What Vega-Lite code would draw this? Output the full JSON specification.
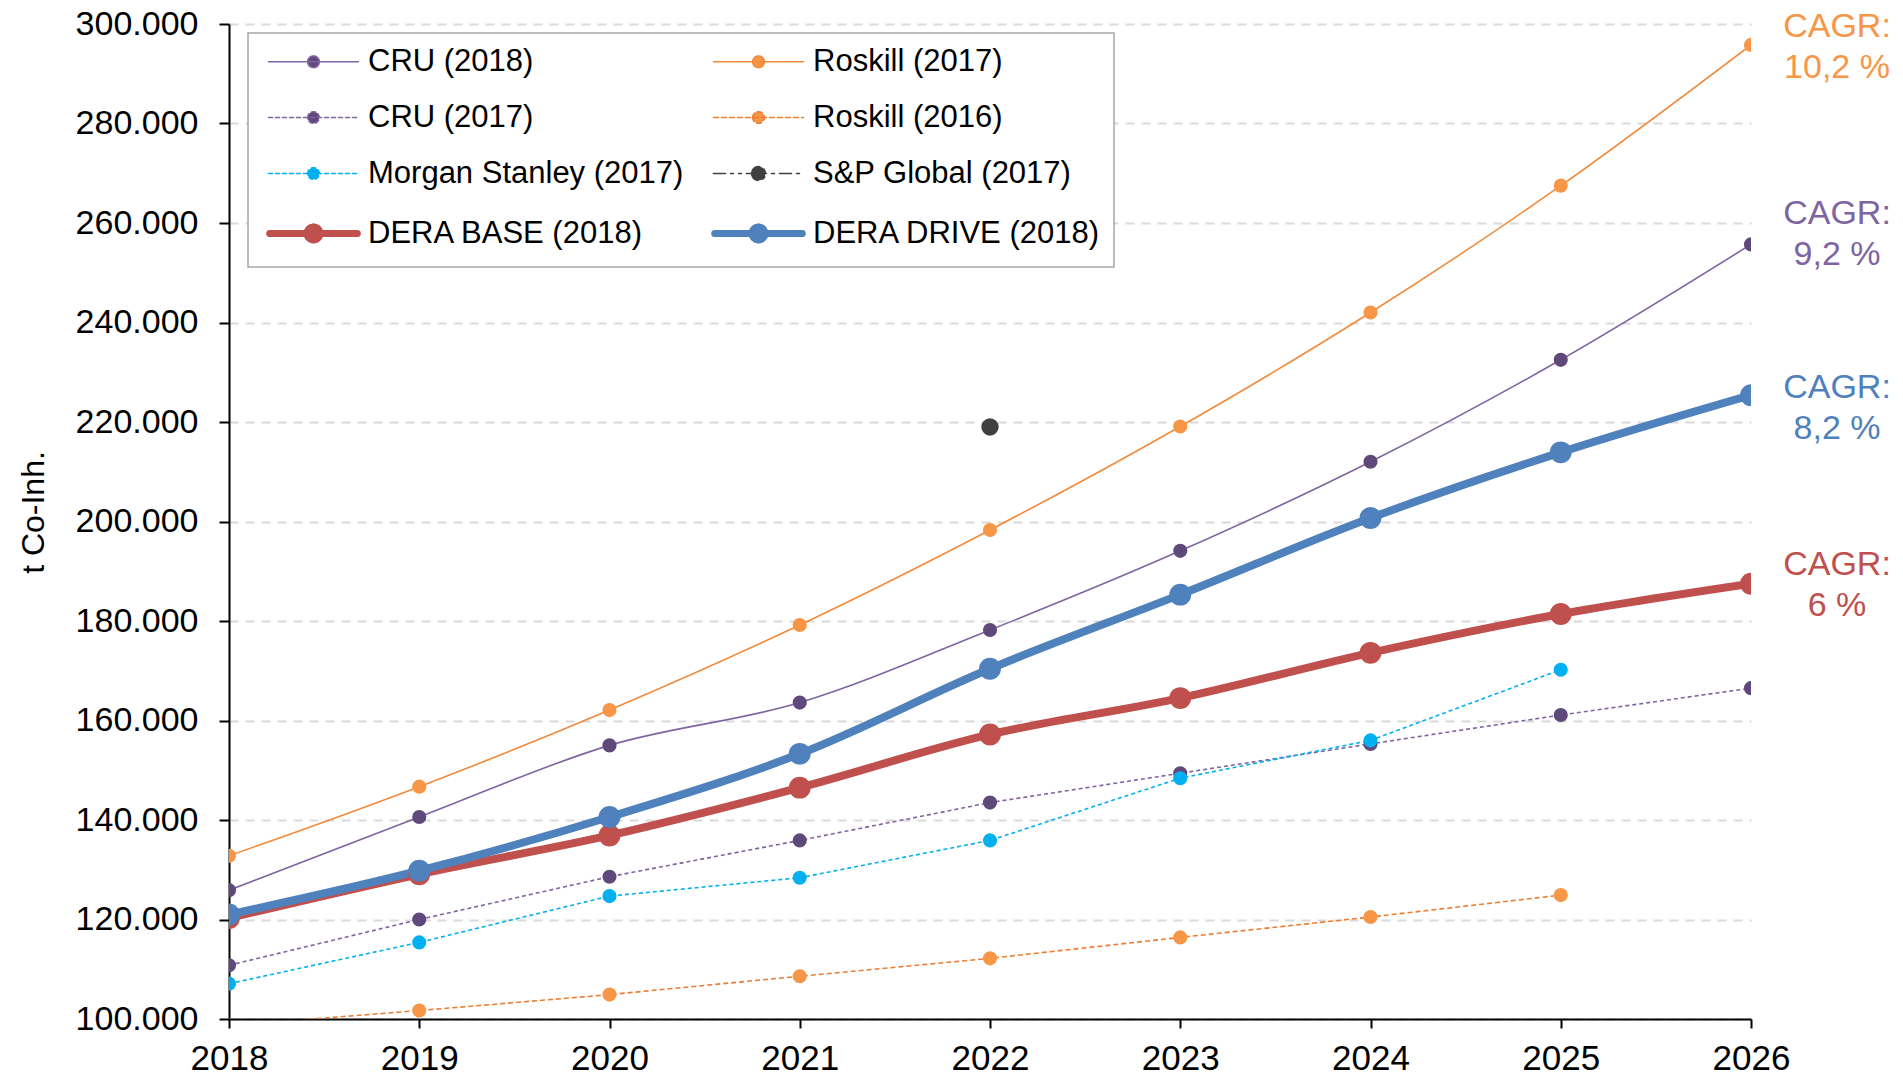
{
  "$schema": "https://vega.github.io/schema/vega-lite/v6.json",
  "width": 1522,
  "height": 995,
  "autosize": {"type": "none"},
  "padding": {"left": 229, "top": 24, "right": 152, "bottom": 58},
  "background": "white",
  "config": {
    "view": {"stroke": null},
    "font": "Liberation Sans"
  },
  "datasets": {
    "series": [
      {"series": "CRU (2018)", "year": 2018, "value": 125900},
      {"series": "CRU (2018)", "year": 2019, "value": 140600},
      {"series": "CRU (2018)", "year": 2020, "value": 155000},
      {"series": "CRU (2018)", "year": 2021, "value": 163600},
      {"series": "CRU (2018)", "year": 2022, "value": 178200},
      {"series": "CRU (2018)", "year": 2023, "value": 194100},
      {"series": "CRU (2018)", "year": 2024, "value": 212000},
      {"series": "CRU (2018)", "year": 2025, "value": 232500},
      {"series": "CRU (2018)", "year": 2026, "value": 255700},
      {"series": "Roskill (2017)", "year": 2018, "value": 132800},
      {"series": "Roskill (2017)", "year": 2019, "value": 146700},
      {"series": "Roskill (2017)", "year": 2020, "value": 162100},
      {"series": "Roskill (2017)", "year": 2021, "value": 179200},
      {"series": "Roskill (2017)", "year": 2022, "value": 198300},
      {"series": "Roskill (2017)", "year": 2023, "value": 219100},
      {"series": "Roskill (2017)", "year": 2024, "value": 242000},
      {"series": "Roskill (2017)", "year": 2025, "value": 267500},
      {"series": "Roskill (2017)", "year": 2026, "value": 295800},
      {"series": "CRU (2017)", "year": 2018, "value": 110800},
      {"series": "CRU (2017)", "year": 2019, "value": 120000},
      {"series": "CRU (2017)", "year": 2020, "value": 128600},
      {"series": "CRU (2017)", "year": 2021, "value": 135900},
      {"series": "CRU (2017)", "year": 2022, "value": 143500},
      {"series": "CRU (2017)", "year": 2023, "value": 149400},
      {"series": "CRU (2017)", "year": 2024, "value": 155300},
      {"series": "CRU (2017)", "year": 2025, "value": 161100},
      {"series": "CRU (2017)", "year": 2026, "value": 166500},
      {"series": "Roskill (2016)", "year": 2018, "value": 98700},
      {"series": "Roskill (2016)", "year": 2019, "value": 101700},
      {"series": "Roskill (2016)", "year": 2020, "value": 104900},
      {"series": "Roskill (2016)", "year": 2021, "value": 108600},
      {"series": "Roskill (2016)", "year": 2022, "value": 112200},
      {"series": "Roskill (2016)", "year": 2023, "value": 116400},
      {"series": "Roskill (2016)", "year": 2024, "value": 120500},
      {"series": "Roskill (2016)", "year": 2025, "value": 124900},
      {"series": "Morgan Stanley (2017)", "year": 2018, "value": 107100},
      {"series": "Morgan Stanley (2017)", "year": 2019, "value": 115400},
      {"series": "Morgan Stanley (2017)", "year": 2020, "value": 124700},
      {"series": "Morgan Stanley (2017)", "year": 2021, "value": 128400},
      {"series": "Morgan Stanley (2017)", "year": 2022, "value": 135900},
      {"series": "Morgan Stanley (2017)", "year": 2023, "value": 148400},
      {"series": "Morgan Stanley (2017)", "year": 2024, "value": 156000},
      {"series": "Morgan Stanley (2017)", "year": 2025, "value": 170200},
      {"series": "S&P Global (2017)", "year": 2022, "value": 219000},
      {"series": "DERA BASE (2018)", "year": 2018, "value": 120300},
      {"series": "DERA BASE (2018)", "year": 2019, "value": 129100},
      {"series": "DERA BASE (2018)", "year": 2020, "value": 136900},
      {"series": "DERA BASE (2018)", "year": 2021, "value": 146500},
      {"series": "DERA BASE (2018)", "year": 2022, "value": 157200},
      {"series": "DERA BASE (2018)", "year": 2023, "value": 164500},
      {"series": "DERA BASE (2018)", "year": 2024, "value": 173600},
      {"series": "DERA BASE (2018)", "year": 2025, "value": 181400},
      {"series": "DERA BASE (2018)", "year": 2026, "value": 187500},
      {"series": "DERA DRIVE (2018)", "year": 2018, "value": 121000},
      {"series": "DERA DRIVE (2018)", "year": 2019, "value": 129800},
      {"series": "DERA DRIVE (2018)", "year": 2020, "value": 140600},
      {"series": "DERA DRIVE (2018)", "year": 2021, "value": 153300},
      {"series": "DERA DRIVE (2018)", "year": 2022, "value": 170400},
      {"series": "DERA DRIVE (2018)", "year": 2023, "value": 185300},
      {"series": "DERA DRIVE (2018)", "year": 2024, "value": 200700},
      {"series": "DERA DRIVE (2018)", "year": 2025, "value": 213900},
      {"series": "DERA DRIVE (2018)", "year": 2026, "value": 225400}
    ],
    "cagr": [
      {"series": "Roskill (2017)", "year": 2026, "value": 295600, "label": "CAGR:\n10,2 %"},
      {"series": "CRU (2018)", "year": 2026, "value": 258000, "label": "CAGR:\n9,2 %"},
      {"series": "DERA DRIVE (2018)", "year": 2026, "value": 223100, "label": "CAGR:\n8,2 %"},
      {"series": "DERA BASE (2018)", "year": 2026, "value": 187400, "label": "CAGR:\n6 %"}
    ]
  },
  "data": {"name": "series"},
  "encoding": {
    "x": {
      "field": "year",
      "type": "quantitative",
      "scale": {"domain": [2018, 2026], "nice": false, "zero": false},
      "axis": {
        "title": null,
        "values": [2018, 2019, 2020, 2021, 2022, 2023, 2024, 2025, 2026],
        "format": "d",
        "grid": false,
        "labelFont": "Liberation Sans",
        "labelFontSize": 35,
        "labelColor": "#000000",
        "labelPadding": 13,
        "labelFlush": false,
        "labelOverlap": false,
        "tickColor": "#000000",
        "tickSize": 9,
        "tickWidth": 2,
        "domainColor": "#000000",
        "domainWidth": 2
      }
    },
    "y": {
      "field": "value",
      "type": "quantitative",
      "scale": {"domain": [100000, 300000], "nice": false, "zero": false},
      "axis": {
        "title": "t Co-Inh.",
        "titleFont": "Liberation Sans",
        "titleFontSize": 32,
        "titleFontWeight": "normal",
        "titleColor": "#000000",
        "titlePadding": 25,
        "titleY": 488,
        "values": [100000, 120000, 140000, 160000, 180000, 200000, 220000, 240000, 260000, 280000, 300000],
        "labelExpr": "replace(format(datum.value, ','), ',', '.')",
        "labelFontSize": 34,
        "labelColor": "#000000",
        "labelPadding": 21,
        "tickColor": "#000000",
        "tickSize": 10,
        "tickWidth": 2,
        "domainColor": "#000000",
        "domainWidth": 2,
        "grid": true,
        "gridColor": "#D9D9D9",
        "gridDash": [9, 7],
        "gridWidth": 2
      }
    }
  },
  "layer": [
    {
      "transform": [{"filter": {"field": "series", "oneOf": ["CRU (2017)", "Roskill (2016)", "Morgan Stanley (2017)", "S&P Global (2017)"]}}],
      "mark": {"type": "line", "clip": true, "strokeWidth": 1.6},
      "encoding": {
        "color": {
          "field": "series",
          "type": "nominal",
          "scale": {
            "domain": ["CRU (2018)", "CRU (2017)", "Morgan Stanley (2017)", "DERA BASE (2018)", "Roskill (2017)", "Roskill (2016)", "S&P Global (2017)", "DERA DRIVE (2018)"],
            "range": ["#8064A2", "#8064A2", "#00B0F0", "#C0504D", "#F28A3A", "#ED7D31", "#404040", "#4F81BD"]
          },
          "legend": {
            "title": null,
            "orient": "none",
            "legendX": 19,
            "legendY": 9,
            "columns": 2,
            "symbolType": "M-4.5,0L4.5,0",
            "symbolSize": 400,
            "symbolStrokeWidth": 1.6,
            "symbolOffset": 37,
            "labelOffset": 39,
            "labelFont": "Liberation Sans",
            "labelFontSize": 31,
            "labelColor": "#000000",
            "labelLimit": 600,
            "rowPadding": 24,
            "columnPadding": 16,
            "padding": 13,
            "strokeColor": "#A6A6A6",
            "fillColor": "#FFFFFF",
            "encode": {
              "legend": {"update": {"stroke": {"value": "#A6A6A6"}, "strokeWidth": {"value": 1.5}, "fill": {"value": "#FFFFFF"}}},
              "symbols": {
                "update": {
                  "shape": {"signal": "indexof(['DERA BASE (2018)','DERA DRIVE (2018)'], datum.value) >= 0 ? 'M-4,0L4,0M-0.59,0A0.59,0.59,0,1,1,0.59,0A0.59,0.59,0,1,1,-0.59,0Z' : (datum.value === 'S&P Global (2017)' ? 'M-5.2,0L5.2,0M-0.8,0A0.8,0.8,0,1,1,0.8,0A0.8,0.8,0,1,1,-0.8,0Z' : 'M-6.36,0L6.36,0M-0.82,0A0.82,0.82,0,1,1,0.82,0A0.82,0.82,0,1,1,-0.82,0Z')"},
                  "fill": {"signal": "['#5F497A','#5F497A','#00B0F0','#C0504D','#F79646','#F79646','#404040','#4F81BD'][indexof(['CRU (2018)','CRU (2017)','Morgan Stanley (2017)','DERA BASE (2018)','Roskill (2017)','Roskill (2016)','S&P Global (2017)','DERA DRIVE (2018)'], datum.value)]"},
                  "stroke": {"signal": "['#8064A2','#8064A2','#00B0F0','#C0504D','#F28A3A','#ED7D31','#404040','#4F81BD'][indexof(['CRU (2018)','CRU (2017)','Morgan Stanley (2017)','DERA BASE (2018)','Roskill (2017)','Roskill (2016)','S&P Global (2017)','DERA DRIVE (2018)'], datum.value)]"},
                  "strokeDash": {"signal": "[[1,0],[4,3],[4,3],[1,0],[1,0],[5,3],[12,5,3,5,3,5],[1,0]][indexof(['CRU (2018)','CRU (2017)','Morgan Stanley (2017)','DERA BASE (2018)','Roskill (2017)','Roskill (2016)','S&P Global (2017)','DERA DRIVE (2018)'], datum.value)]"},
                  "strokeWidth": {"signal": "indexof(['DERA BASE (2018)','DERA DRIVE (2018)'], datum.value) >= 0 ? 7 : 1.6"},
                  "strokeCap": {"value": "round"},
                  "opacity": {"value": 1}
                }
              }
            }
          }
        },
        "strokeDash": {
          "field": "series",
          "type": "nominal",
          "scale": {
            "domain": ["CRU (2017)", "Roskill (2016)", "Morgan Stanley (2017)", "S&P Global (2017)"],
            "range": [[4, 3], [5, 3], [4, 3], [12, 5, 3, 5, 3, 5]]
          },
          "legend": null
        }
      }
    },
    {
      "transform": [{"filter": {"field": "series", "oneOf": ["CRU (2018)", "Roskill (2017)"]}}],
      "mark": {"type": "line", "clip": true, "strokeWidth": 1.6, "interpolate": "monotone"},
      "encoding": {
        "color": {"field": "series", "type": "nominal"}
      }
    },
    {
      "transform": [{"filter": {"field": "series", "oneOf": ["DERA BASE (2018)", "DERA DRIVE (2018)"]}}],
      "mark": {"type": "line", "clip": true, "strokeWidth": 8, "interpolate": "monotone", "strokeCap": "round", "strokeJoin": "round"},
      "encoding": {
        "color": {"field": "series", "type": "nominal"}
      }
    },
    {
      "mark": {"type": "point", "filled": true, "opacity": 1, "clip": true, "shape": "circle"},
      "encoding": {
        "fill": {
          "field": "series",
          "type": "nominal",
          "scale": {
            "domain": ["CRU (2018)", "CRU (2017)", "Morgan Stanley (2017)", "DERA BASE (2018)", "Roskill (2017)", "Roskill (2016)", "S&P Global (2017)", "DERA DRIVE (2018)"],
            "range": ["#5F497A", "#5F497A", "#00B0F0", "#C0504D", "#F79646", "#F79646", "#404040", "#4F81BD"]
          },
          "legend": null
        },
        "size": {
          "field": "series",
          "type": "nominal",
          "scale": {
            "type": "ordinal",
            "domain": ["CRU (2018)", "CRU (2017)", "Morgan Stanley (2017)", "DERA BASE (2018)", "Roskill (2017)", "Roskill (2016)", "S&P Global (2017)", "DERA DRIVE (2018)"],
            "range": [200, 200, 200, 480, 200, 200, 300, 480]
          },
          "legend": null
        }
      }
    },
    {
      "data": {"name": "cagr"},
      "mark": {"type": "text", "align": "center", "baseline": "middle", "dx": 86, "dy": -19, "fontSize": 34, "lineBreak": "\n", "lineHeight": 41, "font": "Liberation Sans"},
      "encoding": {
        "text": {"field": "label"},
        "fill": {
          "field": "series",
          "type": "nominal",
          "scale": {
            "domain": ["Roskill (2017)", "CRU (2018)", "DERA DRIVE (2018)", "DERA BASE (2018)"],
            "range": ["#F79646", "#8064A2", "#4F81BD", "#C0504D"]
          },
          "legend": null
        }
      }
    }
  ],
  "resolve": {"scale": {"fill": "independent"}}
}
